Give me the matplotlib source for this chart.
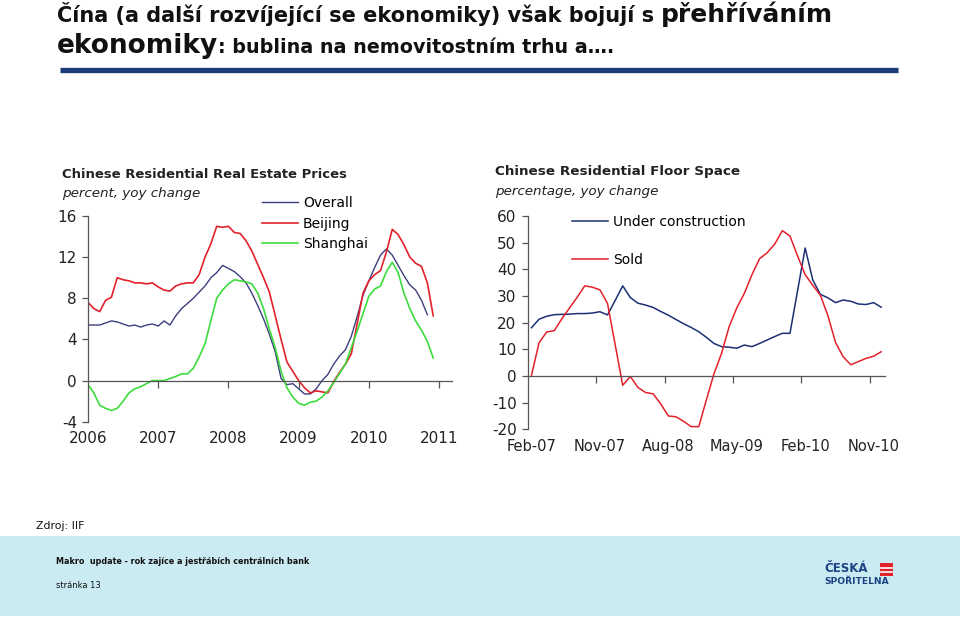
import numpy as np
import matplotlib
matplotlib.use("Agg")
import matplotlib.pyplot as plt
import matplotlib.patches as patches
from matplotlib.lines import Line2D

# --- data ---------------------------------------------------------------
# left chart: residential price index, yoy %, monthly from Jan 2006
overall = [5.4, 5.4, 5.4, 5.6, 5.8, 5.7, 5.5, 5.3, 5.4, 5.2, 5.4, 5.5,
           5.3, 5.8, 5.4, 6.3, 7.0, 7.5, 8.0, 8.6, 9.2, 10.0, 10.5, 11.2,
           10.9, 10.6, 10.1, 9.5, 8.5, 7.3, 6.0, 4.5, 2.8, 0.2, -0.4, -0.3,
           -0.8, -1.3, -1.3, -0.8, 0.0, 0.6, 1.6, 2.4, 3.0, 4.3, 6.2, 8.3,
           9.7, 11.0, 12.2, 12.8, 12.2, 11.2, 10.2, 9.3, 8.8, 7.8, 6.4]
beijing = [7.6, 7.0, 6.7, 7.8, 8.1, 10.0, 9.8, 9.7, 9.5, 9.5, 9.4, 9.5,
           9.1, 8.8, 8.7, 9.2, 9.4, 9.5, 9.5, 10.3, 12.0, 13.3, 15.0, 14.9,
           15.0, 14.4, 14.3, 13.6, 12.6, 11.3, 10.0, 8.6, 6.3, 4.0, 1.8, 0.9,
           0.0, -0.7, -1.2, -1.0, -1.1, -1.2, -0.1, 0.8, 1.6, 2.6, 5.5, 8.5,
           9.7, 10.3, 10.7, 12.5, 14.7, 14.2, 13.2, 12.0, 11.4, 11.1, 9.5, 6.3]
shanghai = [-0.4, -1.2, -2.4, -2.7, -2.9, -2.7, -2.0, -1.2, -0.8, -0.6, -0.3, 0.0,
            0.0, 0.0, 0.2, 0.4, 0.65, 0.65, 1.2, 2.3, 3.6, 5.8, 8.0, 8.8,
            9.4, 9.8, 9.7, 9.6, 9.4, 8.5, 7.0, 5.0, 3.2, 0.9, -0.7, -1.6,
            -2.2, -2.4, -2.1, -2.0, -1.6, -1.0, -0.2, 0.7, 1.6, 3.2, 4.8, 6.5,
            8.2, 8.9, 9.2, 10.6, 11.5, 10.5, 8.5, 7.0, 5.8, 4.9, 3.8, 2.2]
price_years = [2006, 2007, 2008, 2009, 2010, 2011]

# right chart: floor space, yoy %, monthly Feb-07 .. Dec-10
under_construction = [18.1, 21.3, 22.4, 23.0, 23.1, 23.2, 23.4, 23.4, 23.6, 24.1,
                      22.9, 28.3, 33.8, 29.4, 27.3, 26.6, 25.7, 24.2, 22.8, 21.2,
                      19.6, 18.2, 16.6, 14.5, 12.2, 11.0, 10.8, 10.4, 11.6, 11.0,
                      12.2, 13.5, 14.8, 16.0, 16.0, 32.0, 48.0, 36.0, 30.6, 29.3,
                      27.5, 28.5, 28.0, 27.0, 26.8, 27.5, 25.8]
sold = [0.3, 12.5, 16.5, 17.0, 21.5, 25.5, 29.5, 33.8, 33.3, 32.3,
        27.2, 11.8, -3.5, -0.2, -4.3, -6.2, -6.7, -10.5, -15.0, -15.3,
        -17.0, -19.0, -19.0, -9.0, 0.8, 8.5, 18.5, 25.5, 31.0, 38.0,
        44.0, 46.2, 49.5, 54.5, 52.5, 45.0, 38.0, 34.0, 30.3, 22.5,
        12.5, 7.2, 4.2, 5.4, 6.6, 7.4, 9.1]
floor_labels = ["Feb-07", "Nov-07", "Aug-08", "May-09", "Feb-10", "Nov-10"]

W, H = 960, 620
NAVY = "#1d2f74"
RED = "#e3212b"
TXT = "#222222"
AXC = "#555555"


def fx(x):
    return x / W


def fy(y):
    return 1 - y / H


def box(x0, x1, y_top, y_bot):
    return [fx(x0), fy(y_bot), (x1 - x0) / W, (y_bot - y_top) / H]


plt.rcParams['font.family'] = ['DejaVu Sans']
plt.rcParams['axes.unicode_minus'] = False
fig = plt.figure(figsize=(9.6, 6.2), dpi=100)

# footer band
fig.patches.append(patches.Rectangle((0, fy(616)), 1, (616 - 536) / H, transform=fig.transFigure,
                                     facecolor="#cbebf2", edgecolor="none", zorder=0))

# slide title, mixed sizes on one line
r = fig.canvas.get_renderer()


def put_runs(x, y, runs, gap=5):
    for s, size in runs:
        t = fig.text(fx(x), fy(y), s, fontsize=size, fontweight='bold', va='baseline', color="#111111")
        bb = t.get_window_extent(renderer=r)
        x = bb.x1 + gap
    return x


put_runs(57, 22, [("Čína (a další rozvíjející se ekonomiky) však bojují s", 15), ("přehříváním", 18)], gap=7)
put_runs(57, 53, [("ekonomiky", 19), (": bublina na nemovitostním trhu a….", 13.8)], gap=0)

fig.add_artist(Line2D([fx(60), fx(898)], [fy(70), fy(70)], transform=fig.transFigure,
                      color="#1b3c78", linewidth=3.8, solid_capstyle='butt'))


def style_axes(ax):
    for s in ['top', 'right']:
        ax.spines[s].set_visible(False)
    ax.spines['bottom'].set_position(('data', 0))
    for s in ['left', 'bottom']:
        ax.spines[s].set_color(AXC)
        ax.spines[s].set_linewidth(0.9)
    ax.tick_params(axis='y', direction='out', length=4, width=0.9, color=AXC,
                   labelsize=11, labelcolor=TXT, pad=4)
    ax.tick_params(axis='x', direction='out', length=5, width=0.9, color=AXC, labelbottom=False)
    ax.patch.set_alpha(0)


# --- left chart ---------------------------------------------------------
ax1 = fig.add_axes(box(88, 451.7, 216, 421.7))
style_axes(ax1)
t_months = 2006 + np.arange(len(beijing)) / 12
ax1.plot(t_months[:len(overall)], overall, color="#3c3f7e", lw=1.0, label="Overall")
ax1.plot(t_months, beijing, color=RED, lw=1.2, label="Beijing")
ax1.plot(t_months, shanghai, color="#3ddc3d", lw=1.2, label="Shanghai")
ax1.set_xlim(2006, 2011.18)
ax1.set_ylim(-4, 16)
ax1.set_yticks(np.arange(-4, 17, 4))
ax1.set_xticks(price_years[1:])
sec1 = ax1.secondary_xaxis('bottom', functions=(lambda v: v, lambda v: v))
sec1.set_xticks(price_years)
sec1.set_xticklabels([str(y) for y in price_years])
sec1.tick_params(length=0, labelsize=11, labelcolor=TXT, pad=7)
sec1.spines['bottom'].set_visible(False)
ax1.legend(loc='upper left', bbox_to_anchor=((262 - 88) / (451.7 - 88), (421.7 - 196) / (421.7 - 216)),
           frameon=False, fontsize=10, handlelength=2.6, handletextpad=0.35, borderpad=0,
           borderaxespad=0, labelspacing=0.48)

fig.text(fx(62), fy(174), "Chinese Residential Real Estate Prices", fontsize=9.45, fontweight='bold',
         color=TXT, va='center')
fig.text(fx(62), fy(193), "percent, yoy change", fontsize=9.7, style='italic', color=TXT, va='center')

# --- right chart --------------------------------------------------------
ax2 = fig.add_axes(box(527.7, 885, 216, 429.3))
style_axes(ax2)
cat = np.arange(len(sold))
ax2.plot(cat, under_construction, color=NAVY, lw=1.1, label="Under construction")
ax2.plot(cat, sold, color=RED, lw=1.1, label="Sold")
ax2.set_xlim(-0.5, len(sold) - 0.5)
ax2.set_ylim(-20, 60)
ax2.set_yticks(np.arange(-20, 61, 10))
ax2.set_xticks(np.arange(8.5, len(sold), 9))
sec2 = ax2.secondary_xaxis('bottom', functions=(lambda v: v, lambda v: v))
sec2.set_xticks(np.arange(0, len(sold), 9))
sec2.set_xticklabels(floor_labels)
sec2.tick_params(length=0, labelsize=10.5, labelcolor=TXT, pad=7)
sec2.spines['bottom'].set_visible(False)
ax2.legend(loc='upper left', bbox_to_anchor=((572 - 527.7) / (885 - 527.7), (429.3 - 215) / (429.3 - 216)),
           frameon=False, fontsize=10, handlelength=2.6, handletextpad=0.35, borderpad=0,
           borderaxespad=0, labelspacing=1.75)

fig.text(fx(495), fy(171), "Chinese Residential Floor Space", fontsize=9.7, fontweight='bold',
         color=TXT, va='center')
fig.text(fx(495), fy(192), "percentage, yoy change", fontsize=9.7, style='italic', color=TXT, va='center')

# --- footer -------------------------------------------------------------
fig.text(fx(36), fy(526), "Zdroj: IIF", fontsize=7.8, color="#111111", va='center')
fig.text(fx(56), fy(562), "Makro  update - rok zajíce a jestřábích centrálních bank", fontsize=5.8,
         fontweight='bold', color="#111111", va='center')
fig.text(fx(56), fy(586), "stránka 13", fontsize=6, color="#111111", va='center')
fig.text(fx(824), fy(569), "ČESKÁ", fontsize=8.5, fontweight='bold', color="#1c4383", va='center')
fig.text(fx(824), fy(582), "SPOŘITELNA", fontsize=6.6, fontweight='bold', color="#1c4383", va='center')
logo = patches.Rectangle((fx(880), fy(576)), 13 / W, 13 / H, transform=fig.transFigure,
                         facecolor="#e3212b", edgecolor="none")
fig.patches.append(logo)
for yy in (567.5, 571.5):
    fig.add_artist(Line2D([fx(881), fx(892)], [fy(yy), fy(yy)], transform=fig.transFigure,
                          color="white", linewidth=1.2))

fig.savefig("out.png", dpi=100)
